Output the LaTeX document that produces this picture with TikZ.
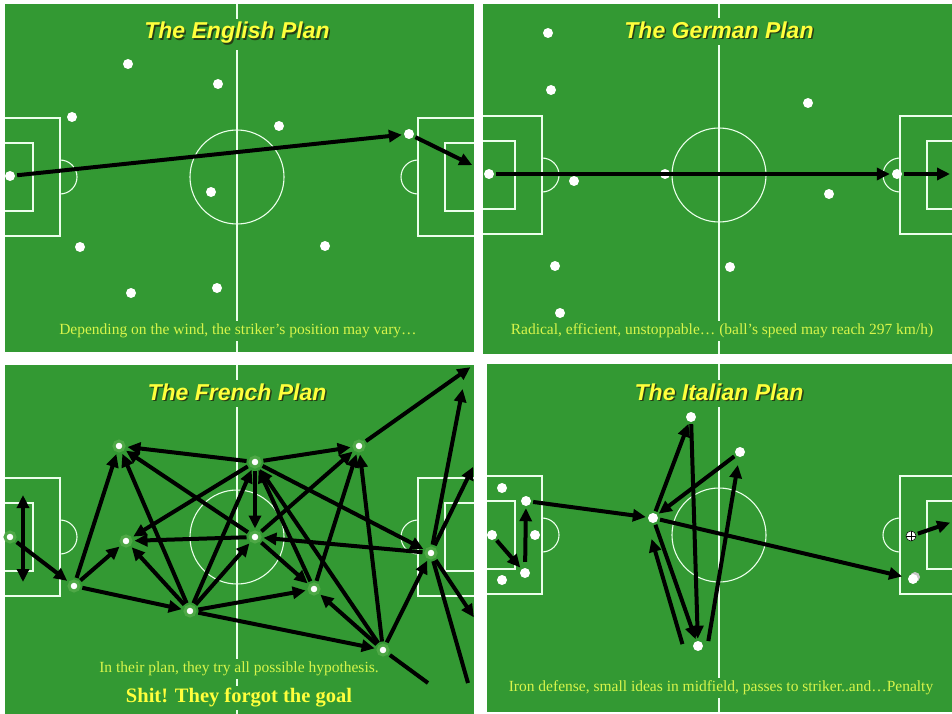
\documentclass[tikz,border=0pt]{standalone}
\usepackage{fontspec}
\setmainfont{Liberation Serif}
\newfontfamily\titlefont{Liberation Sans}
\usetikzlibrary{arrows.meta}

\definecolor{pitchgreen}{RGB}{51,153,51}
\definecolor{glowgreen}{RGB}{78,168,70}
\definecolor{titleyellow}{RGB}{255,255,60}
\definecolor{shadowgreen}{RGB}{38,62,22}
\definecolor{captionyellow}{RGB}{215,245,75}

% x0 y0 x1 y1 centre-x centre-y
\newcommand{\pitch}[6]{%
  \fill[pitchgreen] (#1,#2) rectangle (#3,#4);
  \draw[pitchline] (#5,#2) -- (#5,#4);
  \draw[pitchline] (#5,#6) circle (47);
  \draw[pitchline] (#1,#6-59) -| (#5-177,#6+59) -- (#1,#6+59);
  \draw[pitchline] (#1,#6-34) -| (#5-204,#6+34) -- (#1,#6+34);
  \draw[pitchline] (#5-177,#6-17) arc[start angle=-90, end angle=90, radius=17];
  \draw[pitchline] (#3,#6-59) -| (#5+181,#6+59) -- (#3,#6+59);
  \draw[pitchline] (#3,#6-34) -| (#5+208,#6+34) -- (#3,#6+34);
  \draw[pitchline] (#5+181,#6-17) arc[start angle=270, end angle=90, radius=17];
}

\begin{document}
\begin{tikzpicture}[x=1pt, y=-1pt,
    pitchline/.style={draw=white!92!green, line width=1.1pt},
    player/.style={circle, fill=white, inner sep=0pt, minimum size=10pt},
    frplayer/.style={player, draw=glowgreen, line width=3pt},
    ball/.style={player, draw=black, line width=0.5pt, path picture={\draw[black, line width=1pt] (path picture bounding box.north) -- (path picture bounding box.south) (path picture bounding box.west) -- (path picture bounding box.east);}},
    pass/.style={-{Triangle[length=13pt, width=12pt]}, line width=4pt, black, shorten >=2pt, shorten <=2pt},
    passboth/.style={{Triangle[length=13pt, width=12pt]}-{Triangle[length=13pt, width=12pt]}, line width=4pt, black},
    passline/.style={line width=4pt, black, shorten <=2pt},
    titleshadow/.style={fill=pitchgreen, text=shadowgreen, inner sep=5pt, font=\titlefont\bfseries\itshape\fontsize{23}{26}\selectfont},
    titletext/.style={text=titleyellow, inner sep=5pt, font=\titlefont\bfseries\itshape\fontsize{23}{26}\selectfont},
    caption/.style={fill=pitchgreen, text=captionyellow, inner sep=3pt, font=\fontsize{15.5}{18}\selectfont},
    bigcaption/.style={fill=pitchgreen, text=titleyellow, inner sep=3pt, font=\bfseries\fontsize{20.5}{23}\selectfont}
  ]
  \path[use as bounding box, fill=white] (0,0) rectangle (952,714);

  \pitch{5}{4}{474}{352}{237}{177}
  \pitch{483}{4}{952}{354}{719}{175}
  \pitch{5}{365}{474}{714}{237}{537}
  \pitch{487}{364}{952}{712}{719}{535}

  \node[titleshadow] (enshadow) at (238.5,34.5) {The English Plan};
  \node[titletext] (entitle) at (237,33) {The English Plan};
  \node[titleshadow] (deshadow) at (720.5,31.5) {The German Plan};
  \node[titletext] (detitle) at (719,30) {The German Plan};
  \node[titleshadow] (frshadow) at (238.5,393.5) {The French Plan};
  \node[titletext] (frtitle) at (237,392) {The French Plan};
  \node[titleshadow] (itshadow) at (720.5,393.5) {The Italian Plan};
  \node[titletext] (ittitle) at (719,392) {The Italian Plan};

  \node[caption] (encap) at (238,331) {Depending on the wind, the striker’s position may vary…};
  \node[caption] (decap) at (722,331) {Radical, efficient, unstoppable… (ball’s speed may reach 297 km/h)};
  \node[caption] (frcap) at (239,669) {In their plan, they try all possible hypothesis.};
  \node[bigcaption] (frcapb) at (239,698) {Shit! They forgot the goal};
  \node[caption] (itcap) at (721,688) {Iron defense, small ideas in midfield, passes to striker..and…Penalty};

  \node[player] (en1) at (128,64) {};
  \node[player] (en2) at (218,84) {};
  \node[player] (en3) at (72,117) {};
  \node[player] (en4) at (279,126) {};
  \node[player] (en5) at (409,134) {};
  \node[player] (en6) at (10,176) {};
  \node[player] (en7) at (211,192) {};
  \node[player] (en8) at (80,247) {};
  \node[player] (en9) at (325,246) {};
  \node[player] (en10) at (131,293) {};
  \node[player] (en11) at (217,288) {};
  \coordinate (enexit) at (474,166);
  \draw[pass] (en6) -- (en5);
  \draw[pass] (en5) -- (enexit);

  \node[player] (de1) at (548,33) {};
  \node[player] (de2) at (551,90) {};
  \node[player] (de3) at (808,103) {};
  \node[player] (de4) at (489,174) {};
  \node[player] (de5) at (574,181) {};
  \node[player] (de6) at (665,174) {};
  \node[player] (de7) at (829,194) {};
  \node[player] (de8) at (897,174) {};
  \node[player] (de9) at (555,266) {};
  \node[player] (de10) at (730,267) {};
  \node[player] (de11) at (560,313) {};
  \coordinate (deexit) at (952,174);
  \draw[pass] (de4) -- (de8);
  \draw[pass] (de8) -- (deexit);

  \node[frplayer] (fr1) at (10,537) {};
  \node[frplayer] (fr2) at (74,586) {};
  \node[frplayer] (fr3) at (119,446) {};
  \node[frplayer] (fr4) at (126,541) {};
  \node[frplayer] (fr5) at (190,611) {};
  \node[frplayer] (fr6) at (255,462) {};
  \node[frplayer] (fr7) at (255,537) {};
  \node[frplayer] (fr8) at (314,589) {};
  \node[frplayer] (fr9) at (359,446) {};
  \node[frplayer] (fr10) at (431,553) {};
  \node[frplayer] (fr11) at (383,650) {};
  \coordinate (frkeeptop) at (23,495);
  \coordinate (frkeepbot) at (23,582);
  \coordinate (frtop) at (472,366);
  \coordinate (frup) at (463,387);
  \coordinate (frright) at (474,465);
  \coordinate (frlow) at (475,619);
  \coordinate (frdown) at (468,683);
  \coordinate (frend) at (428,683);
  \draw[passboth] (frkeeptop) -- (frkeepbot);
  \draw[pass] (fr1) -- (fr2);
  \draw[pass] (fr2) -- (fr3);
  \draw[pass] (fr2) -- (fr4);
  \draw[pass] (fr2) -- (fr5);
  \draw[pass] (fr5) -- (fr3);
  \draw[pass] (fr5) -- (fr4);
  \draw[pass] (fr5) -- (fr6);
  \draw[pass] (fr5) -- (fr7);
  \draw[pass] (fr5) -- (fr8);
  \draw[pass] (fr5) -- (fr11);
  \draw[pass] (fr6) -- (fr3);
  \draw[pass] (fr7) -- (fr3);
  \draw[pass] (fr6) -- (fr4);
  \draw[pass] (fr7) -- (fr4);
  \draw[pass] (fr6) -- (fr7);
  \draw[pass] (fr6) -- (fr9);
  \draw[pass] (fr6) -- (fr10);
  \draw[pass] (fr7) -- (fr9);
  \draw[pass] (fr7) -- (fr8);
  \draw[pass] (fr8) -- (fr6);
  \draw[pass] (fr11) -- (fr6);
  \draw[pass] (fr8) -- (fr9);
  \draw[pass] (fr11) -- (fr9);
  \draw[pass] (fr10) -- (fr7);
  \draw[pass] (fr11) -- (fr8);
  \draw[pass] (fr11) -- (fr10);
  \draw[pass] (fr9) -- (frtop);
  \draw[pass] (fr10) -- (frup);
  \draw[pass] (fr10) -- (frright);
  \draw[pass] (fr10) -- (frlow);
  \draw[passline] (fr10) -- (frdown);
  \draw[passline] (fr11) -- (frend);

  \node[player] (it1) at (502,488) {};
  \node[player] (it2) at (526,501) {};
  \node[player] (it3) at (492,535) {};
  \node[player] (it4) at (535,535) {};
  \node[player] (it5) at (525,573) {};
  \node[player] (it6) at (502,580) {};
  \node[player] (it7) at (653,518) {};
  \node[player] (it8) at (691,417) {};
  \node[player] (it9) at (740,452) {};
  \node[player] (it10) at (698,646) {};
  \node[ball] (itball) at (911,536) {};
  \fill[gray!45] (915,577) circle (5);
  \node[player] (it12) at (913,579) {};
  \coordinate (itexit) at (952,522);
  \draw[pass] (it3) -- (it5);
  \draw[pass, shorten <=6pt] (it5) -- (it2);
  \draw[pass] (it2) -- (it7);
  \draw[pass] (it7) -- (it8);
  \draw[pass] (it8) -- (it10);
  \draw[pass] (it9) -- (it7);
  \draw[pass] (it7) -- (it10);
  \draw[pass] ([xshift=-15pt]it10.center) -- ([xshift=-2pt, yshift=-19pt]it7.center);
  \draw[pass, shorten >=8pt] ([xshift=10pt, yshift=3pt]it10.center) -- (it9);
  \draw[pass, shorten >=6pt] (it7) -- (it12);
  \draw[pass] (itball) -- (itexit);
\end{tikzpicture}
\end{document}
